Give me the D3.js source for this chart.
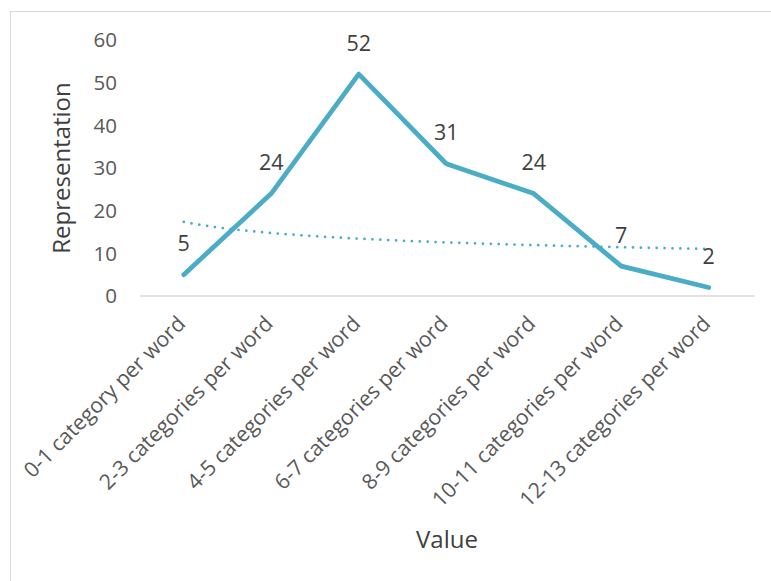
<!DOCTYPE html>
<html>
<head>
<meta charset="utf-8">
<script src="https://cdn.jsdelivr.net/npm/d3@7"></script>
<style>
  body { margin: 0; background: #fff; }
  svg { display: block; font-family: "Open Sans", sans-serif; }
</style>
</head>
<body>
<svg id="svg" width="771" height="581"></svg>
<script>
const categories = [
  "0-1 category per word",
  "2-3 categories per word",
  "4-5 categories per word",
  "6-7 categories per word",
  "8-9 categories per word",
  "10-11 categories per word",
  "12-13 categories per word"
];
const values = [5, 24, 52, 31, 24, 7, 2];
const yTicks = [0, 10, 20, 30, 40, 50, 60];

const lineColor = "#4bacc6";

const svg = d3.select("#svg");

// chart area outline (runs off the right/bottom of the picture)
svg.append("rect")
  .attr("x", 10.5).attr("y", 11.5)
  .attr("width", 800).attr("height", 600)
  .attr("fill", "none")
  .attr("stroke", "#d9d9d9");

const x = d3.scaleBand().domain(categories).range([140, 752.5]);
const y = d3.scaleLinear().domain([0, 60]).range([296, 40]);
const cx = d => x(d) + x.bandwidth() / 2;

// baseline
svg.append("line")
  .attr("x1", 140).attr("x2", 755)
  .attr("y1", y(0)).attr("y2", y(0))
  .attr("stroke", "#d9d9d9").attr("stroke-width", 1.5);

// y tick labels
svg.append("g")
  .selectAll("text")
  .data(yTicks)
  .join("text")
  .attr("x", 117)
  .attr("y", d => y(d))
  .attr("dy", "0.36em")
  .attr("text-anchor", "end")
  .attr("font-size", 20.5)
  .attr("fill", "#595959")
  .text(d => d);

// x category labels, rotated
svg.append("g")
  .selectAll("text")
  .data(categories)
  .join("text")
  .attr("transform", d => `translate(${cx(d) + 3},${325}) rotate(-45)`)
  .attr("text-anchor", "end")
  .attr("font-size", 21.3)
  .attr("fill", "#595959")
  .text(d => d);

// axis titles
svg.append("text")
  .attr("x", 447).attr("y", 548)
  .attr("text-anchor", "middle")
  .attr("font-size", 24)
  .attr("fill", "#404040")
  .text("Value");

svg.append("text")
  .attr("transform", "translate(70,168) rotate(-90)")
  .attr("text-anchor", "middle")
  .attr("font-size", 24)
  .attr("fill", "#404040")
  .text("Representation");

// power trendline fitted to the data (y = a * x^b), as the spreadsheet does
const lx = values.map((v, i) => Math.log(i + 1));
const ly = values.map(v => Math.log(v));
const mx = d3.mean(lx), my = d3.mean(ly);
const b = d3.sum(lx, (v, i) => (v - mx) * (ly[i] - my)) / d3.sum(lx, v => (v - mx) ** 2);
const a = Math.exp(my - b * mx);

const trendPts = d3.range(0, 6.001, 0.05).map(t => {
  const xi = t + 1;
  const px = cx(categories[0]) + t * x.step();
  return [px, y(a * Math.pow(xi, b))];
});

svg.append("path")
  .attr("d", d3.line()(trendPts))
  .attr("fill", "none")
  .attr("stroke", lineColor)
  .attr("stroke-width", 2.75)
  .attr("stroke-linecap", "round")
  .attr("stroke-dasharray", "0 7.9");

// main line
svg.append("path")
  .datum(values)
  .attr("d", d3.line().x((d, i) => cx(categories[i])).y(d => y(d)))
  .attr("fill", "none")
  .attr("stroke", lineColor)
  .attr("stroke-width", 4.75)
  .attr("stroke-linecap", "round")
  .attr("stroke-linejoin", "round");

// data labels
svg.append("g")
  .selectAll("text")
  .data(values)
  .join("text")
  .attr("x", (d, i) => cx(categories[i]))
  .attr("y", d => y(d) - 31)
  .attr("dy", "0.36em")
  .attr("text-anchor", "middle")
  .attr("font-size", 21.5)
  .attr("fill", "#404040")
  .text(d => d);
</script>
</body>
</html>
